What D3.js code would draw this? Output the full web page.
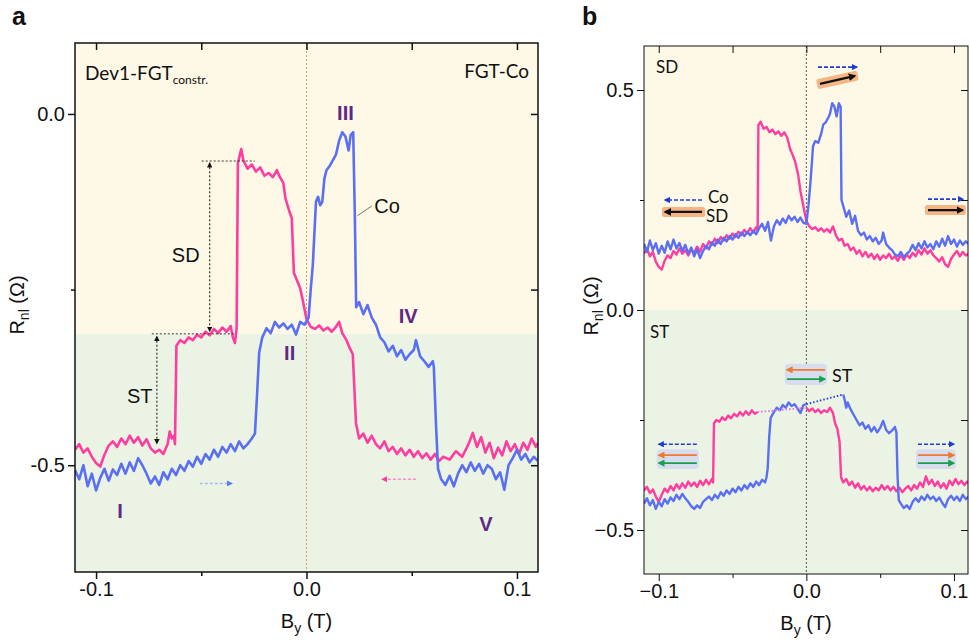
<!DOCTYPE html>
<html>
<head>
<meta charset="utf-8">
<script src="https://cdn.jsdelivr.net/npm/d3@7"></script>
<style>
  body { margin: 0; background: #fff; }
  text { font-family: "Liberation Sans", Arial, sans-serif; }
  .cal { font-family: Lato, "Open Sans", sans-serif; }
</style>
</head>
<body>
<script>
// ---- data (B in T, Rnl in Ohm) ----
// panel a: pink = sweep down, blue = sweep up
const aPink = [
  [-0.110,-0.478],[-0.108,-0.470],[-0.106,-0.482],[-0.104,-0.476],[-0.102,-0.488],[-0.100,-0.497],[-0.098,-0.502],
  [-0.096,-0.485],[-0.094,-0.472],[-0.092,-0.466],[-0.090,-0.474],[-0.088,-0.462],[-0.086,-0.470],[-0.084,-0.458],
  [-0.082,-0.468],[-0.080,-0.460],[-0.078,-0.472],[-0.076,-0.463],[-0.074,-0.476],[-0.072,-0.482],[-0.070,-0.478],
  [-0.068,-0.484],[-0.066,-0.470],[-0.065,-0.452],[-0.064,-0.462],[-0.063,-0.458],[-0.0625,-0.470],[-0.0618,-0.330],
  [-0.060,-0.322],[-0.058,-0.326],[-0.056,-0.318],[-0.054,-0.322],[-0.052,-0.314],[-0.050,-0.318],[-0.048,-0.310],
  [-0.046,-0.315],[-0.044,-0.306],[-0.042,-0.312],[-0.040,-0.304],[-0.038,-0.310],[-0.036,-0.302],[-0.035,-0.318],
  [-0.034,-0.326],[-0.0332,-0.305],[-0.0326,-0.070],[-0.031,-0.050],[-0.030,-0.066],[-0.028,-0.078],[-0.026,-0.072],
  [-0.024,-0.082],[-0.022,-0.076],[-0.020,-0.088],[-0.018,-0.084],[-0.016,-0.090],[-0.014,-0.080],[-0.013,-0.088],
  [-0.011,-0.098],[-0.010,-0.120],[-0.008,-0.140],[-0.007,-0.148],[-0.006,-0.226],[-0.003,-0.248],[-0.002,-0.262],
  [0.000,-0.292],[0.002,-0.303],[0.004,-0.306],[0.006,-0.301],[0.008,-0.308],[0.010,-0.304],[0.012,-0.310],
  [0.014,-0.303],[0.0155,-0.296],[0.017,-0.312],[0.019,-0.322],[0.0205,-0.333],[0.022,-0.342],[0.0235,-0.440],
  [0.025,-0.462],[0.027,-0.455],[0.029,-0.468],[0.031,-0.458],[0.033,-0.470],[0.035,-0.476],[0.037,-0.466],
  [0.039,-0.480],[0.041,-0.474],[0.043,-0.484],[0.045,-0.476],[0.047,-0.486],[0.049,-0.478],[0.051,-0.488],
  [0.053,-0.480],[0.055,-0.490],[0.057,-0.483],[0.059,-0.492],[0.061,-0.484],[0.063,-0.494],[0.065,-0.488],
  [0.068,-0.492],[0.071,-0.480],[0.074,-0.488],[0.077,-0.470],[0.079,-0.454],[0.081,-0.474],[0.083,-0.460],
  [0.085,-0.482],[0.087,-0.468],[0.089,-0.490],[0.091,-0.475],[0.093,-0.486],[0.095,-0.466],[0.097,-0.480],
  [0.099,-0.470],[0.101,-0.484],[0.103,-0.468],[0.105,-0.478],[0.107,-0.462],[0.109,-0.474],[0.110,-0.468]
];
const aBlue = [
  [-0.110,-0.507],[-0.108,-0.520],[-0.106,-0.500],[-0.104,-0.530],[-0.102,-0.512],[-0.100,-0.536],[-0.098,-0.518],
  [-0.096,-0.505],[-0.094,-0.522],[-0.092,-0.506],[-0.090,-0.514],[-0.088,-0.498],[-0.086,-0.512],[-0.084,-0.496],
  [-0.082,-0.508],[-0.080,-0.490],[-0.078,-0.500],[-0.076,-0.512],[-0.074,-0.526],[-0.072,-0.516],[-0.070,-0.528],
  [-0.068,-0.510],[-0.066,-0.520],[-0.064,-0.505],[-0.062,-0.514],[-0.060,-0.500],[-0.058,-0.508],[-0.056,-0.494],
  [-0.054,-0.502],[-0.052,-0.488],[-0.050,-0.498],[-0.048,-0.484],[-0.046,-0.492],[-0.044,-0.478],[-0.042,-0.488],
  [-0.040,-0.474],[-0.038,-0.482],[-0.036,-0.470],[-0.034,-0.480],[-0.032,-0.466],[-0.030,-0.476],[-0.028,-0.470],
  [-0.026,-0.462],[-0.0245,-0.455],[-0.0235,-0.400],[-0.0225,-0.340],[-0.021,-0.318],[-0.019,-0.305],[-0.017,-0.312],
  [-0.015,-0.296],[-0.013,-0.304],[-0.011,-0.298],[-0.009,-0.306],[-0.007,-0.300],[-0.005,-0.314],[-0.003,-0.296],
  [-0.001,-0.300],[0.001,-0.290],[0.002,-0.250],[0.003,-0.215],[0.0045,-0.125],[0.0055,-0.118],[0.0065,-0.130],
  [0.0075,-0.125],[0.0085,-0.092],[0.0095,-0.080],[0.011,-0.074],[0.0125,-0.066],[0.014,-0.058],[0.0155,-0.038],
  [0.017,-0.026],[0.0185,-0.032],[0.020,-0.052],[0.021,-0.030],[0.0222,-0.026],[0.0230,-0.150],[0.0236,-0.275],
  [0.025,-0.268],[0.027,-0.285],[0.029,-0.272],[0.031,-0.290],[0.033,-0.300],[0.035,-0.318],[0.037,-0.325],
  [0.039,-0.338],[0.041,-0.330],[0.043,-0.345],[0.045,-0.336],[0.047,-0.350],[0.049,-0.342],[0.051,-0.336],
  [0.052,-0.322],[0.054,-0.345],[0.056,-0.352],[0.058,-0.360],[0.060,-0.352],[0.0605,-0.360],[0.0615,-0.440],
  [0.0625,-0.505],[0.064,-0.520],[0.066,-0.528],[0.068,-0.515],[0.070,-0.530],[0.072,-0.512],[0.074,-0.500],
  [0.076,-0.510],[0.078,-0.496],[0.080,-0.508],[0.082,-0.498],[0.084,-0.512],[0.086,-0.500],[0.088,-0.505],
  [0.090,-0.520],[0.092,-0.510],[0.094,-0.535],[0.096,-0.500],[0.098,-0.490],[0.100,-0.478],[0.102,-0.492],
  [0.104,-0.484],[0.106,-0.496],[0.108,-0.488],[0.110,-0.494]
];

// panel b, SD part
const bPinkSD = [
  [-0.110,0.128],[-0.108,0.140],[-0.106,0.122],[-0.104,0.132],[-0.102,0.110],[-0.100,0.098],[-0.098,0.092],
  [-0.096,0.112],[-0.094,0.124],[-0.092,0.118],[-0.090,0.134],[-0.088,0.126],[-0.086,0.140],[-0.084,0.128],
  [-0.082,0.136],[-0.080,0.124],[-0.078,0.138],[-0.076,0.130],[-0.074,0.144],[-0.072,0.132],[-0.070,0.150],
  [-0.068,0.140],[-0.066,0.156],[-0.064,0.148],[-0.062,0.162],[-0.060,0.152],[-0.058,0.166],[-0.056,0.158],
  [-0.054,0.170],[-0.052,0.162],[-0.050,0.174],[-0.048,0.166],[-0.046,0.178],[-0.044,0.170],[-0.042,0.182],
  [-0.040,0.174],[-0.038,0.186],[-0.036,0.176],[-0.034,0.188],[-0.033,0.180],[-0.0325,0.420],[-0.031,0.428],
  [-0.029,0.412],[-0.027,0.416],[-0.025,0.404],[-0.023,0.410],[-0.021,0.400],[-0.019,0.406],[-0.017,0.396],
  [-0.015,0.404],[-0.013,0.392],[-0.011,0.366],[-0.009,0.350],[-0.0075,0.336],[-0.0055,0.306],[-0.004,0.270],
  [-0.002,0.236],[0.000,0.202],[0.002,0.190],[0.004,0.184],[0.006,0.188],[0.008,0.180],[0.010,0.186],
  [0.012,0.178],[0.014,0.184],[0.016,0.176],[0.018,0.190],[0.020,0.170],[0.022,0.158],[0.024,0.162],
  [0.026,0.146],[0.028,0.150],[0.030,0.136],[0.032,0.142],[0.034,0.128],[0.036,0.136],[0.038,0.122],
  [0.040,0.132],[0.042,0.120],[0.044,0.128],[0.046,0.116],[0.048,0.126],[0.050,0.114],[0.052,0.124],
  [0.054,0.118],[0.056,0.128],[0.058,0.116],[0.060,0.122],[0.062,0.112],[0.064,0.124],[0.066,0.114],
  [0.068,0.126],[0.070,0.118],[0.072,0.130],[0.074,0.122],[0.076,0.136],[0.078,0.126],[0.080,0.140],
  [0.082,0.128],[0.084,0.136],[0.086,0.124],[0.088,0.118],[0.090,0.110],[0.092,0.120],[0.094,0.104],
  [0.096,0.098],[0.098,0.116],[0.100,0.126],[0.102,0.134],[0.104,0.122],[0.106,0.132],[0.108,0.124],[0.110,0.128]
];
const bBlueSD = [
  [-0.110,0.150],[-0.108,0.132],[-0.106,0.158],[-0.104,0.136],[-0.102,0.152],[-0.100,0.128],[-0.098,0.146],
  [-0.096,0.130],[-0.094,0.156],[-0.092,0.138],[-0.090,0.160],[-0.088,0.140],[-0.086,0.152],[-0.084,0.134],
  [-0.082,0.148],[-0.080,0.128],[-0.078,0.142],[-0.076,0.122],[-0.074,0.138],[-0.072,0.118],[-0.070,0.134],
  [-0.068,0.146],[-0.066,0.138],[-0.064,0.154],[-0.062,0.146],[-0.060,0.160],[-0.058,0.150],[-0.056,0.164],
  [-0.054,0.156],[-0.052,0.168],[-0.050,0.160],[-0.048,0.172],[-0.046,0.164],[-0.044,0.176],[-0.042,0.168],
  [-0.040,0.178],[-0.038,0.170],[-0.036,0.180],[-0.034,0.172],[-0.032,0.186],[-0.030,0.196],[-0.028,0.180],
  [-0.026,0.200],[-0.024,0.158],[-0.022,0.190],[-0.020,0.204],[-0.018,0.194],[-0.016,0.208],[-0.014,0.198],
  [-0.012,0.214],[-0.010,0.204],[-0.008,0.212],[-0.006,0.200],[-0.004,0.210],[-0.002,0.198],[0.000,0.196],
  [0.0015,0.240],[0.003,0.300],[0.0045,0.372],[0.006,0.384],[0.008,0.380],[0.010,0.400],[0.0115,0.422],
  [0.013,0.426],[0.015,0.438],[0.016,0.446],[0.0175,0.470],[0.019,0.462],[0.0205,0.440],[0.022,0.470],
  [0.0232,0.462],[0.0238,0.250],[0.025,0.236],[0.027,0.212],[0.029,0.226],[0.031,0.196],[0.033,0.214],
  [0.035,0.180],[0.037,0.170],[0.039,0.176],[0.041,0.160],[0.043,0.168],[0.045,0.156],[0.047,0.164],
  [0.049,0.150],[0.051,0.158],[0.052,0.176],[0.054,0.150],[0.056,0.142],[0.058,0.136],[0.060,0.126],
  [0.062,0.122],[0.064,0.132],[0.066,0.120],[0.068,0.128],[0.070,0.134],[0.072,0.148],[0.074,0.136],
  [0.076,0.152],[0.078,0.140],[0.080,0.156],[0.082,0.142],[0.084,0.150],[0.086,0.138],[0.088,0.156],
  [0.090,0.144],[0.092,0.162],[0.094,0.146],[0.096,0.168],[0.098,0.150],[0.100,0.160],[0.102,0.144],
  [0.104,0.158],[0.106,0.148],[0.108,0.156],[0.110,0.150]
];

// panel b, ST part (two pieces per sweep, joined by a dotted line)
const bPinkST1 = [
  [-0.110,-0.410],[-0.108,-0.402],[-0.106,-0.416],[-0.104,-0.408],[-0.102,-0.424],[-0.100,-0.436],[-0.098,-0.420],
  [-0.096,-0.406],[-0.094,-0.414],[-0.092,-0.400],[-0.090,-0.410],[-0.088,-0.396],[-0.086,-0.406],[-0.084,-0.394],
  [-0.082,-0.404],[-0.080,-0.390],[-0.078,-0.400],[-0.076,-0.392],[-0.074,-0.402],[-0.072,-0.388],[-0.070,-0.398],
  [-0.068,-0.386],[-0.066,-0.396],[-0.064,-0.384],[-0.0632,-0.392],[-0.0626,-0.258],[-0.061,-0.250],[-0.059,-0.254],
  [-0.057,-0.244],[-0.055,-0.250],[-0.053,-0.240],[-0.051,-0.246],[-0.049,-0.236],[-0.047,-0.242],[-0.045,-0.232],
  [-0.043,-0.240],[-0.041,-0.230],[-0.039,-0.238],[-0.037,-0.228],[-0.035,-0.236],[-0.033,-0.232]
];
const bPinkST2 = [
  [0.000,-0.222],[0.002,-0.230],[0.004,-0.224],[0.006,-0.232],[0.008,-0.226],[0.010,-0.234],[0.012,-0.228],
  [0.014,-0.232],[0.016,-0.222],[0.018,-0.234],[0.0195,-0.258],[0.021,-0.270],[0.0225,-0.300],[0.0235,-0.380],
  [0.025,-0.392],[0.027,-0.384],[0.029,-0.398],[0.031,-0.390],[0.033,-0.404],[0.035,-0.394],[0.037,-0.408],
  [0.039,-0.400],[0.041,-0.410],[0.043,-0.402],[0.045,-0.412],[0.047,-0.404],[0.049,-0.410],[0.051,-0.398],
  [0.053,-0.408],[0.055,-0.400],[0.057,-0.410],[0.059,-0.402],[0.061,-0.412],[0.063,-0.404],[0.065,-0.414],
  [0.067,-0.406],[0.069,-0.400],[0.071,-0.410],[0.073,-0.398],[0.075,-0.406],[0.077,-0.392],[0.079,-0.402],
  [0.081,-0.378],[0.083,-0.396],[0.085,-0.386],[0.087,-0.400],[0.089,-0.390],[0.091,-0.404],[0.093,-0.394],
  [0.095,-0.406],[0.097,-0.388],[0.099,-0.398],[0.101,-0.384],[0.103,-0.396],[0.105,-0.388],[0.107,-0.398],
  [0.109,-0.390],[0.110,-0.394]
];
const bBlueST1 = [
  [-0.110,-0.440],[-0.108,-0.428],[-0.106,-0.444],[-0.104,-0.432],[-0.102,-0.452],[-0.100,-0.436],[-0.098,-0.446],
  [-0.096,-0.430],[-0.094,-0.440],[-0.092,-0.426],[-0.090,-0.434],[-0.088,-0.420],[-0.086,-0.430],[-0.084,-0.418],
  [-0.082,-0.428],[-0.080,-0.436],[-0.078,-0.446],[-0.076,-0.452],[-0.074,-0.444],[-0.072,-0.450],[-0.070,-0.436],
  [-0.068,-0.430],[-0.066,-0.424],[-0.064,-0.432],[-0.062,-0.420],[-0.060,-0.428],[-0.058,-0.414],[-0.056,-0.422],
  [-0.054,-0.410],[-0.052,-0.418],[-0.050,-0.406],[-0.048,-0.414],[-0.046,-0.402],[-0.044,-0.410],[-0.042,-0.398],
  [-0.040,-0.406],[-0.038,-0.394],[-0.036,-0.402],[-0.034,-0.390],[-0.032,-0.398],[-0.030,-0.386],[-0.028,-0.392],
  [-0.027,-0.380],[-0.0262,-0.360],[-0.0252,-0.290],[-0.0242,-0.245],[-0.022,-0.232],[-0.020,-0.222],[-0.018,-0.228],
  [-0.016,-0.216],[-0.014,-0.222],[-0.012,-0.210],[-0.010,-0.218],[-0.008,-0.214],[-0.006,-0.224],[-0.004,-0.234],
  [-0.002,-0.216],[0.000,-0.214]
];
const bBlueST2 = [
  [0.025,-0.192],[0.026,-0.205],[0.027,-0.222],[0.028,-0.210],[0.030,-0.226],[0.032,-0.238],[0.034,-0.250],
  [0.036,-0.262],[0.038,-0.256],[0.040,-0.270],[0.042,-0.262],[0.044,-0.276],[0.046,-0.266],[0.048,-0.278],
  [0.050,-0.268],[0.052,-0.252],[0.054,-0.272],[0.056,-0.280],[0.058,-0.274],[0.060,-0.266],[0.061,-0.278],
  [0.0618,-0.380],[0.0626,-0.432],[0.064,-0.440],[0.066,-0.450],[0.068,-0.444],[0.070,-0.452],[0.072,-0.436],
  [0.074,-0.428],[0.076,-0.436],[0.078,-0.424],[0.080,-0.432],[0.082,-0.420],[0.084,-0.430],[0.086,-0.424],
  [0.088,-0.434],[0.090,-0.426],[0.092,-0.438],[0.094,-0.448],[0.096,-0.430],[0.098,-0.422],[0.100,-0.432],
  [0.102,-0.424],[0.104,-0.434],[0.106,-0.420],[0.108,-0.430],[0.110,-0.424]
];

// ticks
const xMajor = [-0.1, 0, 0.1];
const xMinor = [-0.05, 0.05];
const aYMajor = [0, -0.5];
const aYMinor = [-0.25];
const bYMajor = [0.5, 0, -0.5];
const bYMinor = [0.25, -0.25];
const aRegionEdge = -0.313;   // SD / ST shading border in panel a

const PINK = "#ff3d9f", BLUE = "#5b6ff3", PURPLE = "#5c2a86";
const YEL = "#fef8e7", GRN = "#ebf4e4";

const svg = d3.select("body").append("svg").attr("width", 970).attr("height", 642);
const defs = svg.append("defs");

function marker(id, color, size){
  defs.append("marker").attr("id", id)
    .attr("viewBox", "0 0 10 10").attr("refX", 8).attr("refY", 5)
    .attr("markerWidth", size).attr("markerHeight", size)
    .attr("orient", "auto-start-reverse")
    .append("path").attr("d", "M0,0L10,5L0,10z").attr("fill", color);
}
marker("mBlack", "#111", 5);
marker("mBlackS", "#111", 3.5);
marker("mPink", PINK, 4);
marker("mLBlue", "#5b7ff0", 4);
marker("mDBlue", "#1f3ccf", 4);
marker("mOrange", "#f07a2c", 4);
marker("mGreen", "#17a04a", 4);

function arrow(g, x1, y1, x2, y2, color, mk, w, dash){
  return g.append("line").attr("x1", x1).attr("y1", y1).attr("x2", x2).attr("y2", y2)
    .attr("stroke", color).attr("stroke-width", w)
    .attr("stroke-dasharray", dash || null)
    .attr("marker-end", "url(#" + mk + ")");
}

// shared panel frame: background, axes, zero line
function panel(o){
  const g = svg.append("g");
  const x = d3.scaleLinear().domain(o.xDom).range([o.left, o.right]);
  const y = d3.scaleLinear().domain(o.yDom).range([o.top, o.bottom]);
  const clipId = "clip" + o.name;
  defs.append("clipPath").attr("id", clipId).append("rect")
    .attr("x", o.left).attr("y", o.top).attr("width", o.right - o.left).attr("height", o.bottom - o.top);

  g.append("rect").attr("x", o.left).attr("y", o.top).attr("width", o.right - o.left)
    .attr("height", y(o.edge) - o.top).attr("fill", YEL);
  g.append("rect").attr("x", o.left).attr("y", y(o.edge)).attr("width", o.right - o.left)
    .attr("height", o.bottom - y(o.edge)).attr("fill", GRN);

  g.append("line").attr("x1", x(0)).attr("x2", x(0)).attr("y1", o.top).attr("y2", o.bottom)
    .attr("stroke", o.zeroColor).attr("stroke-width", 1).attr("stroke-dasharray", o.zeroDash);

  const fmt = v => o.fmt(v);
  const axes = [
    [d3.axisBottom(x).tickValues(xMajor).tickSize(7).tickFormat(fmt), `translate(0,${o.bottom})`, true],
    [d3.axisBottom(x).tickValues(xMinor).tickSize(4).tickFormat(""), `translate(0,${o.bottom})`],
    [d3.axisTop(x).tickValues(xMajor).tickSize(-7).tickFormat(""), `translate(0,${o.top})`],
    [d3.axisTop(x).tickValues(xMinor).tickSize(-7).tickFormat(""), `translate(0,${o.top})`],
    [d3.axisLeft(y).tickValues(o.yMajor).tickSize(7).tickFormat(fmt), `translate(${o.left},0)`, true],
    [d3.axisLeft(y).tickValues(o.yMinor).tickSize(4).tickFormat(""), `translate(${o.left},0)`],
    [d3.axisRight(y).tickValues(o.yMajor).tickSize(-7).tickFormat(""), `translate(${o.right},0)`],
    [d3.axisRight(y).tickValues(o.yMinor).tickSize(-7).tickFormat(""), `translate(${o.right},0)`]
  ];
  axes.forEach(([ax, tr, lab]) => {
    const a = g.append("g").attr("transform", tr).call(ax.tickSizeOuter(0));
    a.select(".domain").remove();
    a.selectAll("line").attr("stroke", "#111").attr("stroke-width", o.frameW);
    if (lab) a.selectAll("text").attr("font-size", 20).attr("fill", "#111")
      .style("font-family", '"Liberation Sans", Arial, sans-serif');
  });

  const traces = g.append("g").attr("clip-path", `url(#${clipId})`);
  const line = d3.line().x(d => x(d[0])).y(d => y(d[1]));

  // frame on top
  const frame = () => g.append("rect").attr("x", o.left).attr("y", o.top)
    .attr("width", o.right - o.left).attr("height", o.bottom - o.top)
    .attr("fill", "none").attr("stroke", "#111").attr("stroke-width", o.frameW);

  // axis titles
  const xl = g.append("text").attr("x", (o.left + o.right) / 2 + o.xlShift).attr("y", o.xlY)
    .attr("text-anchor", "middle").attr("font-size", 20).attr("fill", "#111");
  xl.append("tspan").text("B");
  xl.append("tspan").text("y").attr("font-size", 14).attr("dy", 5);
  xl.append("tspan").text(" (T)").attr("dy", -5);
  const yl = g.append("text").attr("transform", `translate(${o.ylX},${o.ylY}) rotate(-90)`)
    .attr("text-anchor", "middle").attr("font-size", 20).attr("fill", "#111");
  yl.append("tspan").text("R");
  yl.append("tspan").text("nl").attr("font-size", 14).attr("dy", 5);
  yl.append("tspan").text(" (Ω)").attr("dy", -5);

  return {g, x, y, traces, line, frame};
}

// ---------- panel a ----------
const A = panel({
  name: "a", left: 75, right: 538, top: 43, bottom: 572,
  xDom: [-0.11, 0.11], yDom: [0.101, -0.652], edge: aRegionEdge,
  yMajor: aYMajor, yMinor: aYMinor, frameW: 1.5,
  zeroColor: "#e59a5c", zeroDash: "2,2",
  fmt: v => d3.format(".1f")(v).replace("−", "-"),
  xlShift: 0, xlY: 628, ylX: 24, ylY: 305
});
A.traces.append("path").datum(aPink).attr("d", A.line).attr("fill", "none")
  .attr("stroke", PINK).attr("stroke-width", 2.6).attr("stroke-linejoin", "round");
A.traces.append("path").datum(aBlue).attr("d", A.line).attr("fill", "none")
  .attr("stroke", BLUE).attr("stroke-width", 2.6).attr("stroke-linejoin", "round");

// SD / ST guides
const ax = A.x, ay = A.y, ag = A.g;
ag.append("line").attr("x1", ax(-0.0498)).attr("x2", ax(-0.0246)).attr("y1", ay(-0.067)).attr("y2", ay(-0.067))
  .attr("stroke", "#333").attr("stroke-width", 1).attr("stroke-dasharray", "2,2");
ag.append("line").attr("x1", ax(-0.0735)).attr("x2", ax(-0.034)).attr("y1", ay(-0.313)).attr("y2", ay(-0.313))
  .attr("stroke", "#333").attr("stroke-width", 1).attr("stroke-dasharray", "2,2");
arrow(ag, ax(-0.046), ay(-0.070), ax(-0.046), ay(-0.309), "#222", "mBlack", 1.1, "2,2")
  .attr("marker-start", "url(#mBlack)");
arrow(ag, ax(-0.0711), ay(-0.317), ax(-0.0711), ay(-0.469), "#222", "mBlack", 1.1, "2,2")
  .attr("marker-start", "url(#mBlack)");
ag.append("text").attr("x", ax(-0.064)).attr("y", ay(-0.211)).attr("font-size", 20).attr("fill", "#111").text("SD");
ag.append("text").attr("x", ax(-0.0853)).attr("y", ay(-0.412)).attr("font-size", 20).attr("fill", "#111").text("ST");

// sweep arrows
arrow(ag, ax(-0.0507), ay(-0.526), ax(-0.0355), ay(-0.526), "#aab8f4", "mLBlue", 1.5, "3,2");
arrow(ag, ax(0.052), ay(-0.520), ax(0.036), ay(-0.520), "#ff8cc4", "mPink", 1.5, "3,2");

// state labels
[["III", 0.0185, -0.0085], ["IV", 0.0483, -0.298], ["II", -0.008, -0.350], ["I", -0.0886, -0.575], ["V", 0.0853, -0.593]]
  .forEach(([t, bx, by]) => ag.append("text").attr("x", ax(bx)).attr("y", ay(by)).attr("text-anchor", "middle")
    .attr("font-size", 20).attr("font-weight", "bold").attr("fill", PURPLE).text(t));

ag.append("line").attr("x1", ax(0.0242)).attr("y1", ay(-0.145)).attr("x2", ax(0.031)).attr("y2", ay(-0.131))
  .attr("stroke", "#555").attr("stroke-width", 0.8);
ag.append("text").attr("x", ax(0.0322)).attr("y", ay(-0.141)).attr("font-size", 20).attr("fill", "#111").text("Co");

const dev = ag.append("text").attr("class", "cal").attr("x", 85).attr("y", 80).attr("font-size", 19).attr("fill", "#111");
dev.append("tspan").text("Dev1-FGT");
dev.append("tspan").text("constr.").attr("font-size", 12).attr("dy", 4);
ag.append("text").attr("class", "cal").attr("x", 529).attr("y", 78).attr("text-anchor", "end")
  .attr("font-size", 19).attr("fill", "#111").text("FGT-Co");
A.frame();

// ---------- panel b ----------
const B = panel({
  name: "b", left: 644, right: 968, top: 46, bottom: 574,
  xDom: [-0.11, 0.1095], yDom: [0.6, -0.6], edge: 0,
  yMajor: bYMajor, yMinor: bYMinor, frameW: 1,
  zeroColor: "#555", zeroDash: "2,2",
  fmt: d3.format(".1f"),
  xlShift: 0, xlY: 630, ylX: 598, ylY: 306
});
const bx = B.x, by = B.y, bg = B.g;
[[bPinkSD, PINK], [bBlueSD, BLUE], [bPinkST1, PINK], [bPinkST2, PINK], [bBlueST1, BLUE], [bBlueST2, BLUE]]
  .forEach(([d, c]) => B.traces.append("path").datum(d).attr("d", B.line).attr("fill", "none")
    .attr("stroke", c).attr("stroke-width", 2.4).attr("stroke-linejoin", "round"));
// dotted joins across the gaps
[[bPinkST1, bPinkST2, "#e36ee6"], [bBlueST1, bBlueST2, "#2336d8"]].forEach(([p, q, c]) => {
  const s = p[p.length - 1], e = q[0];
  B.traces.append("line").attr("x1", bx(s[0])).attr("y1", by(s[1])).attr("x2", bx(e[0])).attr("y2", by(e[1]))
    .attr("stroke", c).attr("stroke-width", 1.8).attr("stroke-dasharray", "1.5,2");
});

bg.append("text").attr("class", "cal").attr("x", 656).attr("y", 73).attr("font-size", 17).attr("fill", "#111").text("SD");
bg.append("text").attr("class", "cal").attr("x", 650).attr("y", 338).attr("font-size", 17).attr("fill", "#111").text("ST");

// SD magnet arrows (black on orange)
function sdArrow(x1, y1, x2, y2){
  const p1 = [bx(x1), by(y1)], p2 = [bx(x2), by(y2)];
  const dx = p2[0] - p1[0], dy = p2[1] - p1[1], len = Math.hypot(dx, dy);
  const ang = Math.atan2(dy, dx) * 180 / Math.PI;
  bg.append("rect").attr("x", -3).attr("y", -5).attr("width", len + 6).attr("height", 10).attr("rx", 2.5)
    .attr("fill", "#f5b585")
    .attr("transform", `translate(${p1[0]},${p1[1]}) rotate(${ang})`);
  arrow(bg, p1[0], p1[1], p2[0], p2[1], "#111", "mBlackS", 2.2);
}
arrow(bg, bx(0.0079), by(0.552), bx(0.0342), by(0.552), "#1f3ccf", "mDBlue", 1.6, "4,2");
sdArrow(0.0092, 0.514, 0.0329, 0.532);
arrow(bg, bx(-0.0707), by(0.250), bx(-0.0958), by(0.250), "#1f3ccf", "mDBlue", 1.6, "4,2");
sdArrow(-0.0707, 0.223, -0.0958, 0.223);
arrow(bg, bx(0.0824), by(0.252), bx(0.106), by(0.252), "#1f3ccf", "mDBlue", 1.6, "4,2");
sdArrow(0.0824, 0.227, 0.106, 0.227);
bg.append("text").attr("class", "cal").attr("x", bx(-0.0667)).attr("y", by(0.243)).attr("font-size", 17).attr("fill", "#111").text("Co");
bg.append("text").attr("class", "cal").attr("x", bx(-0.068)).attr("y", by(0.200)).attr("font-size", 17).attr("fill", "#111").text("SD");

// ST magnet arrows (orange / green on lavender)
function stBox(x1, x2, yo, yg, dirO, dirG){
  bg.append("rect").attr("x", bx(x1) - 2).attr("y", by(yo) - 6).attr("width", bx(x2) - bx(x1) + 4)
    .attr("height", by(yg) - by(yo) + 12).attr("rx", 4).attr("fill", "#d8dcef");
  const o = dirO > 0 ? [x1, x2] : [x2, x1];
  const gr = dirG > 0 ? [x1, x2] : [x2, x1];
  arrow(bg, bx(o[0]), by(yo), bx(o[1]), by(yo), "#f07a2c", "mOrange", 1.8);
  arrow(bg, bx(gr[0]), by(yg), bx(gr[1]), by(yg), "#17a04a", "mGreen", 1.8);
}
stBox(-0.0132, 0.0126, -0.136, -0.157, -1, 1);
bg.append("text").attr("class", "cal").attr("x", bx(0.0173)).attr("y", by(-0.164)).attr("font-size", 18).attr("fill", "#111").text("ST");
arrow(bg, bx(-0.0742), by(-0.305), bx(-0.100), by(-0.305), "#1f3ccf", "mDBlue", 1.6, "4,2");
stBox(-0.100, -0.0742, -0.330, -0.348, -1, -1);
arrow(bg, bx(0.0756), by(-0.305), bx(0.100), by(-0.305), "#1f3ccf", "mDBlue", 1.6, "4,2");
stBox(0.0756, 0.100, -0.330, -0.348, 1, 1);
B.frame();

// panel letters
svg.append("text").attr("x", 12).attr("y", 25).attr("font-size", 25).attr("font-weight", "bold").attr("fill", "#111").text("a");
svg.append("text").attr("x", 582).attr("y", 25).attr("font-size", 25).attr("font-weight", "bold").attr("fill", "#111").text("b");
</script>
</body>
</html>
